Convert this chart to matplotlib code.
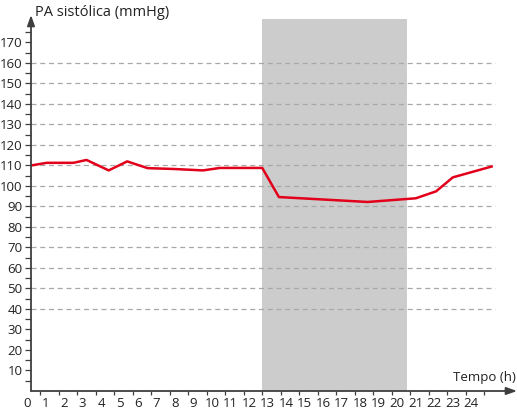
import matplotlib
matplotlib.use("Agg")
import numpy as np
import matplotlib.pyplot as plt
import matplotlib.transforms as mtransforms

plt.rcParams.update({"font.family": ["Open Sans", "DejaVu Sans"], "font.size": 9})
RED = "#e2001a"; AXIS = "#3f3f3f"; GRID = "#a8a8a8"; SHADE = "#cbcccb"

# data
hours = [0, 0.85, 2.3, 3.0, 4.2, 5.2, 6.3, 7.7, 9.3, 10.2, 12.5, 13.4, 18.2, 20.8, 21.9, 22.8, 24.9]
pas = [110, 111.3, 111.3, 112.7, 107.6, 112, 108.7, 108.3, 107.6, 108.8, 108.8,
       94.6, 92.2, 94.0, 97.4, 104.2, 109.5]
sleep_start, sleep_end = 12.5, 20.3
grid_levels = list(range(40, 161, 10))
ytick_vals = list(range(10, 171, 10))
xtick_vals = list(range(0, 25))

fig = plt.figure(figsize=(5.17, 4.12), dpi=100)
ax = fig.add_axes([31 / 517, 21 / 412, 486 / 517, 376 / 412])
ax.set_xlim(0, 26.27)
ax.set_ylim(0, 183.4)

# sleep period shading
ax.axvspan(sleep_start, sleep_end, ymax=0.99, color=SHADE, lw=0, zorder=0)
for g in grid_levels:
    ax.plot([0, 25.1], [g, g], color=GRID, lw=0.9, ls=(0, (4, 3)), zorder=1)

ax.plot(hours, pas, color=RED, lw=1.8, zorder=3)

# arrowed axes instead of spines
for s in ax.spines.values():
    s.set_visible(False)
arrow = dict(arrowstyle="-|>,head_length=0.7,head_width=0.25", color=AXIS, lw=1.3,
             shrinkA=0, shrinkB=0)
ax.annotate("", xy=(1, 0), xytext=(0, 0), xycoords="axes fraction", arrowprops=arrow)
ax.annotate("", xy=(0, 1), xytext=(0, 0), xycoords="axes fraction", arrowprops=arrow)

ax.set_yticks(ytick_vals)
ax.set_yticks(np.arange(5, 176, 5), minor=True)
ax.set_xticks(xtick_vals)
ax.set_xticks(np.arange(0.5, 25, 0.5), minor=True)
ax.tick_params(axis="y", which="both", direction="out", length=4, width=0.9, color=AXIS,
               labelsize=9.5, pad=2, labelcolor="#222")
ax.tick_params(axis="x", which="major", length=0, labelsize=9.5, pad=4, labelcolor="#222")
ax.tick_params(axis="x", which="minor", direction="out", length=3, width=0.9, color=AXIS)
shift = mtransforms.ScaledTranslation(-4 / 100, 0, fig.dpi_scale_trans)
for lab in ax.get_xticklabels():
    lab.set_transform(lab.get_transform() + shift)

fig.text(35 / 517, 1 - 12 / 412, "PA sistólica (mmHg)", fontsize=10.5, va="center", ha="left", color="#222")
fig.text(516 / 517, 1 - 378 / 412, "Tempo (h)", fontsize=9.5, va="center", ha="right", color="#222")

fig.savefig("out.png", dpi=100, facecolor="white")
